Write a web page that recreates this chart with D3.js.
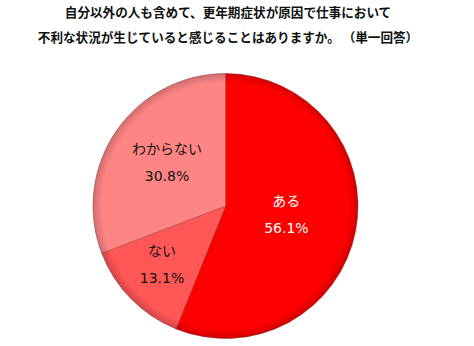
<!DOCTYPE html>
<html>
<head>
<meta charset="utf-8">
<script src="https://cdn.jsdelivr.net/npm/d3@7"></script>
<style>
  body { margin: 0; background: #fff; }
  svg text { font-family: "Noto Sans CJK JP", "Noto Sans", sans-serif; }
</style>
</head>
<body>
<div id="chart"></div>
<script>
// data
const categories = ["ある", "ない", "わからない"];
const values = [56.1, 13.1, 30.8];
const titleLines = ["自分以外の人も含めて、更年期症状が原因で仕事において",
                    "不利な状況が生じていると感じることはありますか。 （単一回答）"];

// styles / layout
const colors = ["#ff0000", "#ff5656", "#ff8585"];
const textColors = ["#ffffff", "#111111", "#111111"];
const labelR = [62, 89, 71];

const width = 474, height = 346;
const cx = 225.5, cy = 206, radius = 132.5;

let svg = d3.select("#chart")
            .append("svg")
            .attr("width", width)
            .attr("height", height);

// soft bevel shading
let defs = svg.append("defs");
let grad = defs.append("radialGradient")
               .attr("id", "shade")
               .attr("cx", 0).attr("cy", 0).attr("r", radius)
               .attr("gradientUnits", "userSpaceOnUse");
grad.append("stop").attr("offset", "0.93").attr("stop-color", "#000").attr("stop-opacity", 0);
grad.append("stop").attr("offset", "1").attr("stop-color", "#000").attr("stop-opacity", 0.18);

// title
svg.selectAll("text.title")
   .data(titleLines)
   .enter()
   .append("text")
   .attr("class", "title")
   .attr("x", 228)
   .attr("y", function(d, i) { return 17 + i * 25 })
   .attr("text-anchor", "middle")
   .attr("xml:space", "preserve")
   .style("white-space", "pre")
   .style("font-size", "12.6px")
   .style("font-weight", "bold")
   .attr("fill", "#111")
   .text(function(d) { return d });

let g = svg.append("g")
           .attr("transform", `translate(${cx},${cy})`);

let pie = d3.pie().sort(null).value(function(d) { return d });
let arcs = pie(values);
let arc = d3.arc().innerRadius(0).outerRadius(radius);

g.selectAll("path.slice")
 .data(arcs)
 .enter()
 .append("path")
 .attr("class", "slice")
 .attr("d", arc)
 .attr("fill", function(d, i) { return colors[i] })
 .attr("stroke", "#8a3b3b")
 .attr("stroke-opacity", 0.6)
 .attr("stroke-width", 0.8);

g.selectAll("path.shade")
 .data(arcs)
 .enter()
 .append("path")
 .attr("class", "shade")
 .attr("d", arc)
 .attr("fill", "url(#shade)");

// labels
let labels = g.selectAll("g.label")
              .data(arcs)
              .enter()
              .append("g")
              .attr("class", "label")
              .attr("transform", function(d, i) {
                let c = d3.arc().innerRadius(labelR[i]).outerRadius(labelR[i]).centroid(d);
                return `translate(${c[0]},${c[1]})`;
              });

labels.append("text")
      .attr("y", -12)
      .attr("text-anchor", "middle")
      .style("font-size", "14px")
      .attr("fill", function(d, i) { return textColors[i] })
      .text(function(d, i) { return categories[i] });

labels.append("text")
      .attr("y", 15)
      .attr("text-anchor", "middle")
      .style("font-family", "'DejaVu Sans', sans-serif")
      .style("font-size", "14px")
      .attr("fill", function(d, i) { return textColors[i] })
      .text(function(d, i) { return values[i].toFixed(1) + "%" });
</script>
</body>
</html>
